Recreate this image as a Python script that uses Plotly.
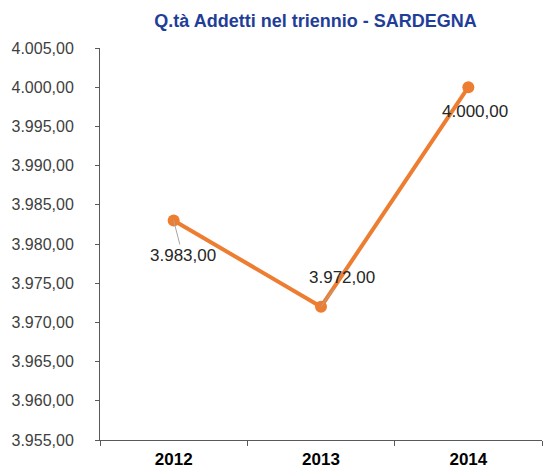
import plotly.graph_objects as go

years = ["2012", "2013", "2014"]
addetti = [3983.0, 3972.0, 4000.0]
label_dx = [9, 21, 7]
label_dy = [35, -29, 24]
label_arrow = ["#A6A6A6", "#A6A6A6", "rgba(0,0,0,0)"]

def it_fmt(v):
    s = f"{v:,.2f}"
    return s.replace(",", "X").replace(".", ",").replace("X", ".")

fig = go.Figure()
fig.add_trace(go.Scatter(
    x=years, y=addetti, mode="lines+markers",
    line=dict(color="#ED7D31", width=4),
    marker=dict(color="#ED7D31", size=12),
    showlegend=False, hoverinfo="skip",
))

for i, (y, dx, dy, ac) in enumerate(zip(addetti, label_dx, label_dy, label_arrow)):
    fig.add_annotation(
        x=i, y=y, xref="x", yref="y", text=it_fmt(y), showarrow=True,
        arrowhead=0, arrowwidth=1, arrowcolor=ac, ax=dx, ay=dy, standoff=0,
        font=dict(family="Liberation Sans, Arial", size=17, color="#262626"),
    )

fig.update_layout(
    width=544, height=468,
    margin=dict(l=100, r=2, t=48, b=28),
    paper_bgcolor="white", plot_bgcolor="white",
    separators=",.",
    title=dict(text="<b>Q.tà Addetti nel triennio - SARDEGNA</b>",
               x=0.58, xanchor="center", y=0.955, yanchor="middle",
               font=dict(family="Liberation Sans, Arial", size=18, color="#1F3E97")),
    font=dict(family="Liberation Sans, Arial"),
)
fig.update_xaxes(
    type="category", range=[-0.5, 2.5], tickson="boundaries",
    ticks="outside", ticklen=5, tickcolor="#595959",
    showline=True, linecolor="#595959", linewidth=1, showgrid=False,
    tickfont=dict(size=17, color="#000000", family="Liberation Sans, Arial"),
    tickprefix="<b>", ticksuffix="</b>", ticklabelstandoff=4, automargin=False,
)
fig.update_yaxes(
    range=[3955, 4005], dtick=5, tick0=3955, tickformat=",.2f",
    ticks="outside", ticklen=4, tickcolor="#595959",
    showline=True, linecolor="#595959", linewidth=1, showgrid=False,
    zeroline=False, ticklabelstandoff=18, automargin=False,
    tickfont=dict(size=16, color="#404040", family="Liberation Sans, Arial"),
)

fig.write_html("out.html")
